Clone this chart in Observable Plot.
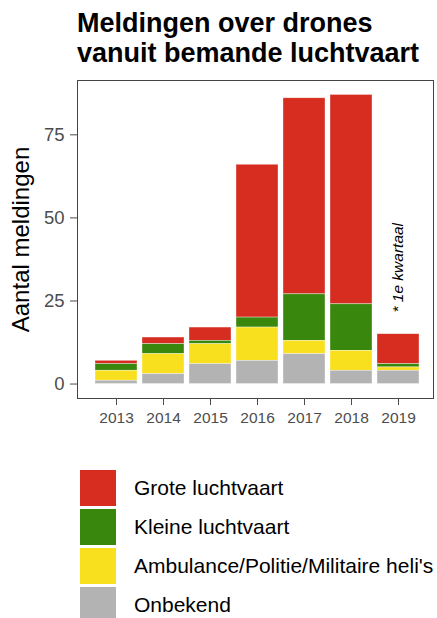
<!DOCTYPE html>
<html>
<head>
<meta charset="utf-8">
<script src="https://cdn.jsdelivr.net/npm/d3@7"></script>
<script src="https://cdn.jsdelivr.net/npm/@observablehq/plot@0.6"></script>
<style>
  html, body { margin: 0; padding: 0; background: #fff; }
  body { width: 437px; height: 618px; overflow: hidden; position: relative; font-family: "Liberation Sans", Arial, sans-serif; }
  #title { position: absolute; left: 77px; top: 8px; font-size: 27px; line-height: 30px; font-weight: bold; color: #000; white-space: nowrap; }
  #chart { position: absolute; left: 0; top: 0; }
  #legend { position: absolute; left: 80px; top: 470px; }
  .row { display: flex; align-items: center; height: 36px; margin-bottom: 3px; }
  .key { width: 36px; height: 36px; flex: none; }
  .lab { margin-left: 18px; font-size: 21px; color: #000; white-space: nowrap; }
</style>
</head>
<body>
<div id="chart"></div>
<div id="title">Meldingen over drones<br>vanuit bemande luchtvaart</div>
<div id="legend"></div>
<script>
const years = ["2013", "2014", "2015", "2016", "2017", "2018", "2019"];
const categories = ["Grote luchtvaart", "Kleine luchtvaart", "Ambulance/Politie/Militaire heli's", "Onbekend"];
const colors = ["#D62D20", "#3A870E", "#F8E01E", "#B3B3B3"];
const grote = [1, 2, 4, 46, 59, 63, 9];
const kleine = [2, 3, 1, 3, 14, 14, 1];
const ambulance = [3, 6, 6, 10, 4, 6, 1];
const onbekend = [1, 3, 6, 7, 9, 4, 4];
const yTicks = [0, 25, 50, 75];
const note = "* 1e kwartaal";

const series = [grote, kleine, ambulance, onbekend];
const rows = [];
years.forEach((yr, i) => {
  categories.forEach((c, k) => rows.push({ year: yr, cat: c, value: series[k][i] }));
});
const stackOrder = [...categories].reverse();

const chart = Plot.plot({
  width: 437,
  height: 440,
  marginTop: 80,
  marginBottom: 42,
  marginLeft: 77,
  marginRight: 4,
  style: { fontFamily: "'Liberation Sans', Arial, sans-serif", background: "white" },
  x: { domain: years, paddingInner: 0.1, paddingOuter: 0.2975, align: 0.58, label: null },
  y: { domain: [-4.35, 91.35], label: null },
  color: { domain: categories, range: colors },
  marks: [
    Plot.barY(rows, Plot.stackY({
      x: "year", y: "value", fill: "cat", order: stackOrder,
      stroke: "white", strokeWidth: 0.6, strokeOpacity: 0.6
    })),
    Plot.text([{ year: "2019", v: 35 }], {
      x: "year", y: "v", text: () => note, rotate: -90,
      fontStyle: "italic", fontSize: 15.5, fill: "#000"
    }),
    Plot.frame({ stroke: "#444", strokeWidth: 1 }),
    Plot.axisY({ ticks: yTicks, tickSize: 7, tickPadding: 6, fontSize: 18.5, color: "#4d4d4d", label: null }),
    Plot.axisX({ tickSize: 7, tickPadding: 6, fontSize: 15.5, color: "#4d4d4d", label: null }),
    Plot.text(["Aantal meldingen"], {
      frameAnchor: "left", textAnchor: "middle", rotate: -90, dx: -56.5, fontSize: 24, fill: "#000", text: d => d
    })
  ]
});
document.getElementById("chart").appendChild(chart);

const legend = document.getElementById("legend");
categories.forEach((c, k) => {
  const r = document.createElement("div");
  r.className = "row";
  const key = document.createElement("div");
  key.className = "key";
  key.style.background = colors[k];
  const lab = document.createElement("div");
  lab.className = "lab";
  lab.textContent = c;
  r.appendChild(key);
  r.appendChild(lab);
  legend.appendChild(r);
});
</script>
</body>
</html>
